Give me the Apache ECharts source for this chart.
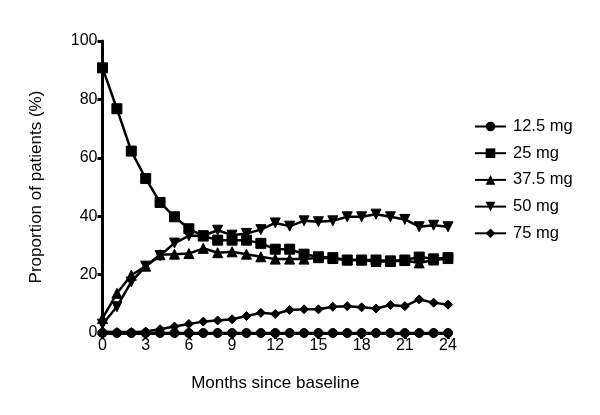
<!DOCTYPE html>
<html>
<head>
<meta charset="utf-8">
<script src="https://cdn.jsdelivr.net/npm/echarts@6/dist/echarts.min.js"></script>
<style>html,body{margin:0;padding:0;background:#fff}#c{width:600px;height:415px}</style>
</head>
<body>
<div id="c"></div>
<script>
const months = [0,1,2,3,4,5,6,7,8,9,10,11,12,13,14,15,16,17,18,19,20,21,22,23,24];
const xTicks = [0,3,6,9,12,15,18,21,24];
const yTicks = [0,20,40,60,80,100];
const seriesNames = ['12.5 mg','25 mg','37.5 mg','50 mg','75 mg'];
const mg12_5 = [0,0,0,0,0,0,0,0,0,0,0,0,0,0,0,0,0,0,0,0,0,0,0,0,0];
const mg25 = [90.8,76.8,62.3,52.9,44.7,39.8,35.7,33.2,31.8,31.8,31.8,30.7,28.7,28.7,27.0,26.1,25.8,25.0,25.0,25.0,24.7,25.0,26.0,25.4,25.8];
const mg37_5 = [5.0,13.6,19.8,22.9,26.8,27.0,27.2,29.0,27.5,27.8,27.0,26.1,25.3,25.3,25.3,25.8,25.5,25.0,25.0,24.5,24.5,24.8,24.0,25.0,25.5];
const mg50 = [3.0,9.0,17.5,22.9,26.5,30.8,33.3,33.3,35.2,33.5,34.1,35.4,37.7,36.6,38.4,38.1,38.4,39.8,39.8,40.7,39.8,38.9,36.4,36.9,36.4];
const mg75 = [0.5,0.3,0.3,0.5,1.3,2.2,3.1,3.9,4.3,4.7,5.8,6.9,6.5,7.9,8.1,8.1,9.0,9.2,8.8,8.4,9.6,9.2,11.5,10.4,9.7];
const values = [mg12_5, mg25, mg37_5, mg50, mg75];
const symbols = ['circle','rect','triangle','triangle','diamond'];
const symbolSizes = [9,10,10,10,9];
const rotations = [0,0,0,180,0];

const chart = echarts.init(document.getElementById('c'), null, {renderer:'canvas'});
const font = 'Liberation Sans, Arial, sans-serif';
const series = seriesNames.map((n,i)=>({
  name: n,
  type: 'line',
  data: months.map((m,j)=>[m, values[i][j]]),
  symbol: symbols[i],
  symbolSize: symbolSizes[i],
  symbolRotate: rotations[i],
  showAllSymbol: true,
  lineStyle: {color:'#000', width:2.5},
  itemStyle: {color:'#000', borderColor:'#000'},
  emphasis: {disabled:true},
  animation: false,
  z: 5 - i
}));
chart.setOption({
  animation: false,
  backgroundColor: '#fff',
  grid: {left: 102.5, right: 152, top: 41, bottom: 82, containLabel: false},
  legend: {
    orient: 'vertical',
    left: 469,
    top: 113,
    itemWidth: 31,
    itemHeight: 12,
    itemGap: 9.7,
    textStyle: {fontFamily: font, fontSize: 16.5, color: '#000', padding: [0,0,0,2]},
    data: seriesNames
  },
  xAxis: {
    type: 'value',
    min: 0, max: 24, interval: 3,
    name: 'Months since baseline',
    nameLocation: 'middle',
    nameGap: 42,
    nameTextStyle: {fontFamily: font, fontSize: 17, color: '#000'},
    axisLine: {onZero:false, lineStyle: {color:'#000', width: 3}},
    axisTick: {show:true, length: 6, lineStyle:{color:'#000', width:3}},
    axisLabel: {fontFamily: font, fontSize: 16, color:'#000', margin: 5,
      formatter: v => xTicks.includes(v) ? String(v) : ''},
    splitLine: {show:false}
  },
  yAxis: {
    type: 'value',
    min: 0, max: 100, interval: 20,
    name: 'Proportion of patients (%)',
    nameLocation: 'middle',
    nameGap: 58,
    nameRotate: 90,
    nameTextStyle: {fontFamily: font, fontSize: 17, color: '#000'},
    axisLine: {show:true, lineStyle: {color:'#000', width: 3}},
    axisTick: {show:true, length: 5, lineStyle:{color:'#000', width:3}},
    axisLabel: {fontFamily: font, fontSize: 16, color:'#000', margin: 5,
      formatter: v => yTicks.includes(v) ? String(v) : ''},
    splitLine: {show:false}
  },
  series: series
});
</script>
</body>
</html>
